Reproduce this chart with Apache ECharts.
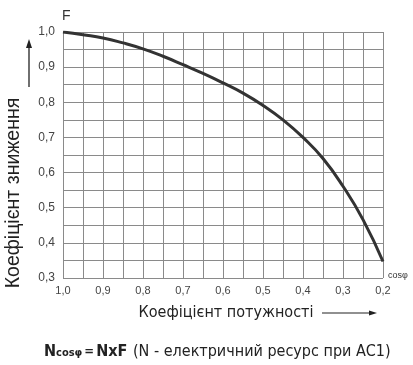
<!DOCTYPE html>
<html><head><meta charset="utf-8">
<script src="https://cdn.jsdelivr.net/npm/echarts@6/dist/echarts.min.js"></script>
<style>html,body{margin:0;padding:0;background:#fff}#c{width:413px;height:365px}</style>
</head><body><div id="c"></div>
<script>
const cosPhi = [1.0,0.95,0.9,0.85,0.8,0.75,0.7,0.65,0.6,0.55,0.5,0.45,0.4,0.35,0.3,0.25,0.2];
const factorF = [1.0,0.992,0.983,0.969,0.952,0.931,0.907,0.882,0.855,0.826,0.791,0.750,0.700,0.640,0.561,0.466,0.347];
const yTitle = 'Коефіцієнт зниження';
const xTitle = 'Коефіцієнт потужності';
const fmt = v => v.toFixed(1).replace('.', ',');
const narrow = '"Liberation Sans Narrow","DejaVu Sans Condensed","Roboto Condensed",sans-serif';
const chart = echarts.init(document.getElementById('c'), null, {renderer:'canvas'});
const gridLine = {show:true, lineStyle:{color:'#8a8a8a', width:1}};
chart.setOption({
  animation:false,
  grid:{left:63, right:30, top:32, bottom:87},
  xAxis:{type:'value', min:0.2, max:1.0, interval:0.1, inverse:true,
    axisLine:{show:false}, axisTick:{show:false},
    axisLabel:{formatter:fmt, color:'#444', fontSize:11, fontFamily:'Liberation Sans', margin:7},
    splitLine:gridLine, minorTick:{show:false, splitNumber:2}, minorSplitLine:gridLine},
  yAxis:{type:'value', min:0.3, max:1.0, interval:0.1,
    axisLine:{show:false}, axisTick:{show:false},
    axisLabel:{formatter:fmt, color:'#444', fontSize:12, fontFamily:'Liberation Sans', margin:8},
    splitLine:gridLine, minorTick:{show:false, splitNumber:2}, minorSplitLine:gridLine},
  series:[{type:'line', data:cosPhi.map((c,i)=>[c,factorF[i]]), smooth:true, symbol:'none',
    lineStyle:{color:'#333', width:3}}],
  graphic:[
    {type:'text', left:62, top:9, style:{text:'F', fontSize:14, fill:'#333', fontFamily:'Liberation Sans'}},
    {type:'text', left:388, top:271, style:{text:'cosφ', fontSize:9, fill:'#333', fontFamily:'Liberation Sans'}},
    {type:'text', x:14, y:193, rotation:Math.PI/2, style:{text:yTitle, fontSize:19.5, fill:'#222', fontFamily:'Liberation Sans', align:'center', verticalAlign:'middle'}},
    {type:'line', shape:{x1:29, y1:87, x2:29, y2:46}, style:{stroke:'#222', lineWidth:1.3}},
    {type:'polygon', shape:{points:[[29,39],[26,48],[32,48]]}, style:{fill:'#222'}},
    {type:'text', x:226, y:313, style:{text:xTitle, fontSize:16, fill:'#222', fontFamily:narrow, align:'center', verticalAlign:'middle'}},
    {type:'line', shape:{x1:322, y1:313, x2:370, y2:313}, style:{stroke:'#222', lineWidth:1.2}},
    {type:'polygon', shape:{points:[[377,313],[369,310.5],[369,315.5]]}, style:{fill:'#222'}},
    {type:'text', x:44, y:352, style:{text:'{b|N}{s|cosφ}{e|=}{b|NxF}', verticalAlign:'middle',
      rich:{b:{fontSize:16, fontWeight:'bold', fill:'#222', fontFamily:narrow},
            s:{fontSize:11, fontWeight:'bold', fill:'#222', fontFamily:narrow, padding:[3,0,0,0]},
            e:{fontSize:13, fontWeight:'bold', fill:'#222', fontFamily:narrow, padding:[0,2,0,2]}}}},
    {type:'text', x:133, y:352, style:{text:'(N - електричний ресурс при АС1)', fontSize:16, fill:'#222', fontFamily:narrow, verticalAlign:'middle'}}
  ]
});
</script></body></html>
